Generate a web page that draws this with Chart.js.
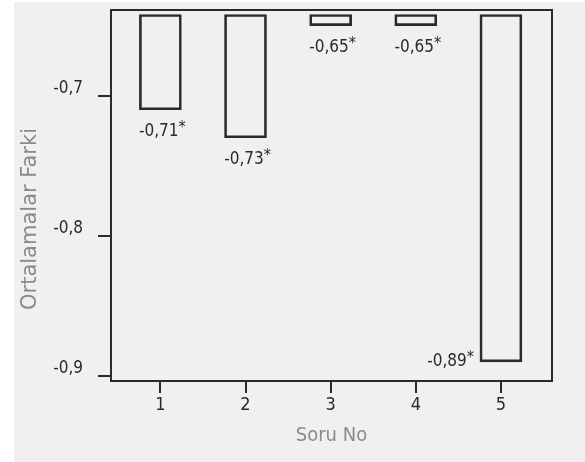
<!DOCTYPE html>
<html>
<head>
<meta charset="utf-8">
<script src="https://cdn.jsdelivr.net/npm/chart.js@4/dist/chart.umd.min.js"></script>
<style>
  html, body { margin: 0; padding: 0; background: #ffffff; }
  #wrap { width: 585px; height: 462px; }
</style>
</head>
<body>
<div id="wrap"><canvas id="c" width="585" height="462"></canvas></div>
<script>
// ---- data ----
const categories = [1, 2, 3, 4, 5];
const barBase = -0.642;
const meanDiffs = [-0.71, -0.73, -0.65, -0.65, -0.89];
const valueLabels = ['-0,71', '-0,73', '-0,65', '-0,65', '-0,89'];
const yTicks = [-0.7, -0.8, -0.9];
const xTitle = 'Soru No';
const yTitle = 'Ortalamalar Farki';

const FONT = '"DejaVu Sans Condensed", "Liberation Sans Narrow", "DejaVu Sans", sans-serif';
const INK = '#2a2a2a';
const BG = '#f0f0f0';

const bgPlugin = {
  id: 'bg',
  beforeDraw(chart) {
    const ctx = chart.ctx;
    ctx.save();
    ctx.fillStyle = '#ffffff';
    ctx.fillRect(0, 0, chart.width, chart.height);
    ctx.fillStyle = BG;
    ctx.fillRect(14, 2, chart.width - 14, chart.height - 2);
    ctx.restore();
  }
};

const framePlugin = {
  id: 'frame',
  afterDraw(chart) {
    const {ctx, chartArea: a} = chart;
    ctx.save();
    ctx.strokeStyle = INK;
    ctx.lineWidth = 2;
    ctx.strokeRect(a.left, a.top, a.right - a.left, a.bottom - a.top);
    // y title
    ctx.fillStyle = '#8a8a8a';
    ctx.font = '21px "DejaVu Sans", sans-serif';
    ctx.textAlign = 'center';
    ctx.textBaseline = 'middle';
    ctx.translate(31, 219);
    ctx.rotate(-Math.PI / 2);
    ctx.fillText(yTitle, 0, 0);
    ctx.restore();
  }
};

const labelPlugin = {
  id: 'vlabels',
  afterDatasetsDraw(chart) {
    const {ctx, chartArea: a} = chart;
    const meta = chart.getDatasetMeta(0);
    ctx.save();
    ctx.fillStyle = INK;
    meta.data.forEach((bar, i) => {
      const txt = valueLabels[i];
      const endY = chart.scales.y.getPixelForValue(meanDiffs[i]);
      ctx.font = '17px ' + FONT;
      const w = ctx.measureText(txt).width;
      ctx.font = '16px ' + FONT;
      const ws = ctx.measureText('*').width;
      let x0, y;
      const below = endY + 22;
      if (below + 10 <= a.bottom) {
        x0 = bar.x - (w + ws) / 2 + 2;
        y = below;
      } else {
        x0 = bar.x - bar.width / 2 - 6 - (w + ws);
        y = endY;
      }
      ctx.textAlign = 'left';
      ctx.textBaseline = 'middle';
      ctx.font = '17px ' + FONT;
      ctx.fillText(txt, x0, y);
      ctx.font = '16px ' + FONT;
      ctx.fillText('*', x0 + w, y - 4);
    });
    ctx.restore();
  }
};

new Chart(document.getElementById('c'), {
  type: 'bar',
  data: {
    datasets: [{
      data: categories.map((c, i) => ({x: c, y: [barBase, meanDiffs[i]]})),
      backgroundColor: 'rgba(0,0,0,0)',
      borderColor: INK,
      borderWidth: 2,
      borderSkipped: false,
      barThickness: 42
    }]
  },
  options: {
    responsive: false,
    animation: false,
    events: [],
    layout: { padding: { left: 0, top: 10, right: 33, bottom: 0 } },
    plugins: { legend: { display: false }, tooltip: { enabled: false } },
    scales: {
      x: {
        type: 'linear',
        offset: false,
        min: 0.42, max: 5.6,
        afterBuildTicks: (s) => { s.ticks = categories.map(v => ({value: v})); },
        afterFit: (s) => { s.height = 81; s.paddingLeft = 0; s.paddingRight = 0; },
        grid: { offset: false, drawOnChartArea: false, drawTicks: true, tickLength: 12, color: INK, lineWidth: 2 },
        border: { display: false },
        ticks: { color: INK, font: { family: FONT, size: 18 }, padding: 2, callback: (v) => String(v) },
        title: { display: true, text: xTitle, color: '#8a8a8a', font: { family: FONT, size: 20 }, padding: { top: 0, bottom: 14 } }
      },
      y: {
        min: -0.9036, max: -0.6388,
        afterBuildTicks: (s) => { s.ticks = yTicks.map(v => ({value: v})); },
        afterFit: (s) => { s.width = 111; s.paddingTop = 0; s.paddingBottom = 0; },
        grid: { drawOnChartArea: false, drawTicks: true, tickLength: 13, color: INK, lineWidth: 2 },
        border: { display: false },
        ticks: { color: INK, font: { family: FONT, size: 17 }, padding: 15, labelOffset: -7,
                 callback: (v) => v.toFixed(1).replace('.', ',') },
        title: { display: false }
      }
    }
  },
  plugins: [bgPlugin, framePlugin, labelPlugin]
});
</script>
</body>
</html>
